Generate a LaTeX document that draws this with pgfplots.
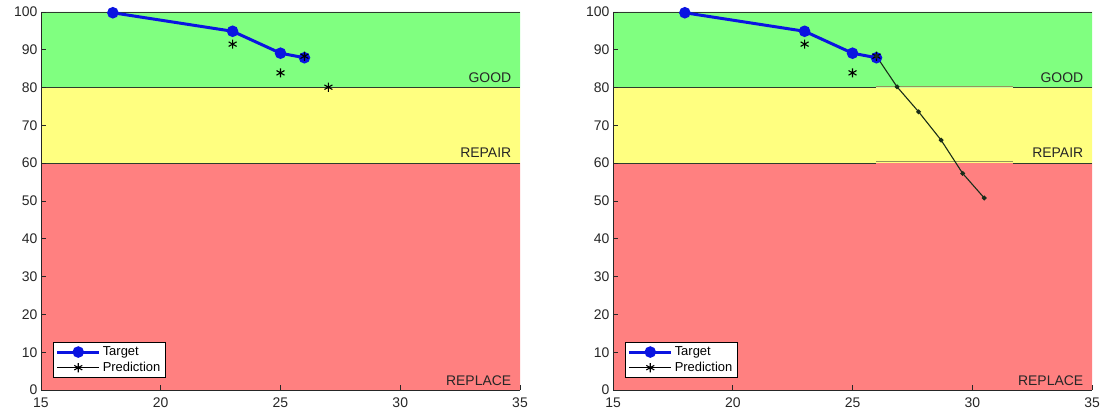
\documentclass[border=0pt]{standalone}
\usepackage{pgfplots}
\pgfplotsset{compat=1.18}
\usepackage{fontspec}
\setmainfont{Liberation Sans}

\definecolor{goodc}{RGB}{128,255,128}
\definecolor{repairc}{RGB}{255,255,128}
\definecolor{replacec}{RGB}{255,128,128}
\definecolor{axc}{RGB}{38,38,38}
\definecolor{edgec}{RGB}{45,60,45}
\definecolor{faint}{RGB}{150,150,90}
\definecolor{tgtc}{RGB}{10,20,225}
\definecolor{fcst}{RGB}{25,45,25}

\tikzset{zone/.style={anchor=base east, font=\fontsize{14}{16}\selectfont, text=axc}}

\pgfplotsset{
  health/.style={
    scale only axis, width=479bp, height=378bp,
    xmin=15, xmax=35, ymin=0, ymax=100,
    xtick={15,20,...,35}, ytick={0,10,...,100},
    axis x line*=bottom, axis y line*=left,
    axis line style={axc, line width=0.8pt},
    tick align=inside, major tick length=5bp,
    tick style={axc, line width=0.6pt},
    ticklabel style={font=\fontsize{14}{16}\selectfont, text=axc},
    xticklabel style={yshift=-4.5bp},
    /pgf/number format/assume math mode=true,
    axis on top,
    legend style={at={(0.025,0.032)}, anchor=south west, draw=black,
      line width=0.6pt, fill=white, font=\fontsize{13}{15}\selectfont,
      inner sep=2.5bp, row sep=1bp},
    legend cell align=left,
  },
  band/.style={draw=none, fill=#1, forget plot},
  edge/.style={edgec, line width=0.8pt, forget plot},
  tgt/.style={tgtc, line width=3pt, mark=*, mark size=4.2bp,
    legend image code/.code={
      \draw[mark repeat=2, mark phase=2, ##1]
        plot coordinates {(0bp,0bp) (21bp,0bp) (42bp,0bp)};}},
  pred/.style={black, only marks, mark=asterisk, mark size=4.6bp,
    mark options={line width=1.1pt},
    legend image code/.code={
      \draw[black, line width=0.6pt] (0bp,0bp) -- (42bp,0bp);
      \draw[black, line width=1.1pt] plot[mark=asterisk, mark size=4.6bp]
        coordinates {(21bp,0bp)};}},
}

\begin{document}
\begin{tikzpicture}
\path[use as bounding box] (0,0) rectangle (1102bp,417bp);

% left: predictions only
\begin{axis}[health, at={(41bp,27bp)}, anchor=south west]
\addplot[band=goodc] coordinates {(15,80) (35,80) (35,100) (15,100)} \closedcycle;
\addplot[band=repairc] coordinates {(15,60) (35,60) (35,80) (15,80)} \closedcycle;
\addplot[band=replacec] coordinates {(15,0) (35,0) (35,60) (15,60)} \closedcycle;
\addplot[edge] coordinates {(15,100) (35,100)};
\addplot[edge] coordinates {(15,80) (35,80)};
\addplot[edge] coordinates {(15,60) (35,60)};
\addplot[tgt] coordinates {(18,99.8) (23,94.9) (25,89.1) (26,87.9)};
\addlegendentry{Target}
\addplot[pred] coordinates {(23,91.5) (25,83.9) (26,88.3) (27,80.1)};
\addlegendentry{Prediction}
\node[zone] at (axis cs:34.78,81.3) {GOOD};
\node[zone] at (axis cs:34.78,61.5) {REPAIR};
\node[zone] at (axis cs:34.78,1.3) {REPLACE};
\end{axis}

% right: predictions with the forecast run
\begin{axis}[health, at={(613bp,27bp)}, anchor=south west]
\addplot[band=goodc] coordinates {(15,80) (35,80) (35,100) (15,100)} \closedcycle;
\addplot[band=repairc] coordinates {(15,60) (35,60) (35,80) (15,80)} \closedcycle;
\addplot[band=replacec] coordinates {(15,0) (35,0) (35,60) (15,60)} \closedcycle;
\addplot[edge] coordinates {(15,100) (35,100)};
\addplot[edge] coordinates {(15,80) (26,80)};
\addplot[faint, line width=0.5pt, forget plot] coordinates {(26,80.4) (31.7,80.4)};
\addplot[edge] coordinates {(31.7,80) (35,80)};
\addplot[edge] coordinates {(15,60) (26,60)};
\addplot[faint, line width=0.5pt, forget plot] coordinates {(26,60.4) (31.7,60.4)};
\addplot[edge] coordinates {(31.7,60) (35,60)};
\addplot[tgt] coordinates {(18,99.8) (23,94.9) (25,89.1) (26,87.9)};
\addlegendentry{Target}
\addplot[pred] coordinates {(23,91.5) (25,83.9) (26,88.3)};
\addlegendentry{Prediction}
\addplot[fcst, line width=1.1pt, mark=*, mark size=1.8bp, forget plot]
  coordinates {(26,88.3) (26.86,80.2) (27.76,73.6) (28.7,66.1) (29.6,57.3) (30.5,50.8)};
\node[zone] at (axis cs:34.78,81.3) {GOOD};
\node[zone] at (axis cs:34.78,61.5) {REPAIR};
\node[zone] at (axis cs:34.78,1.3) {REPLACE};
\end{axis}
\end{tikzpicture}
\end{document}
